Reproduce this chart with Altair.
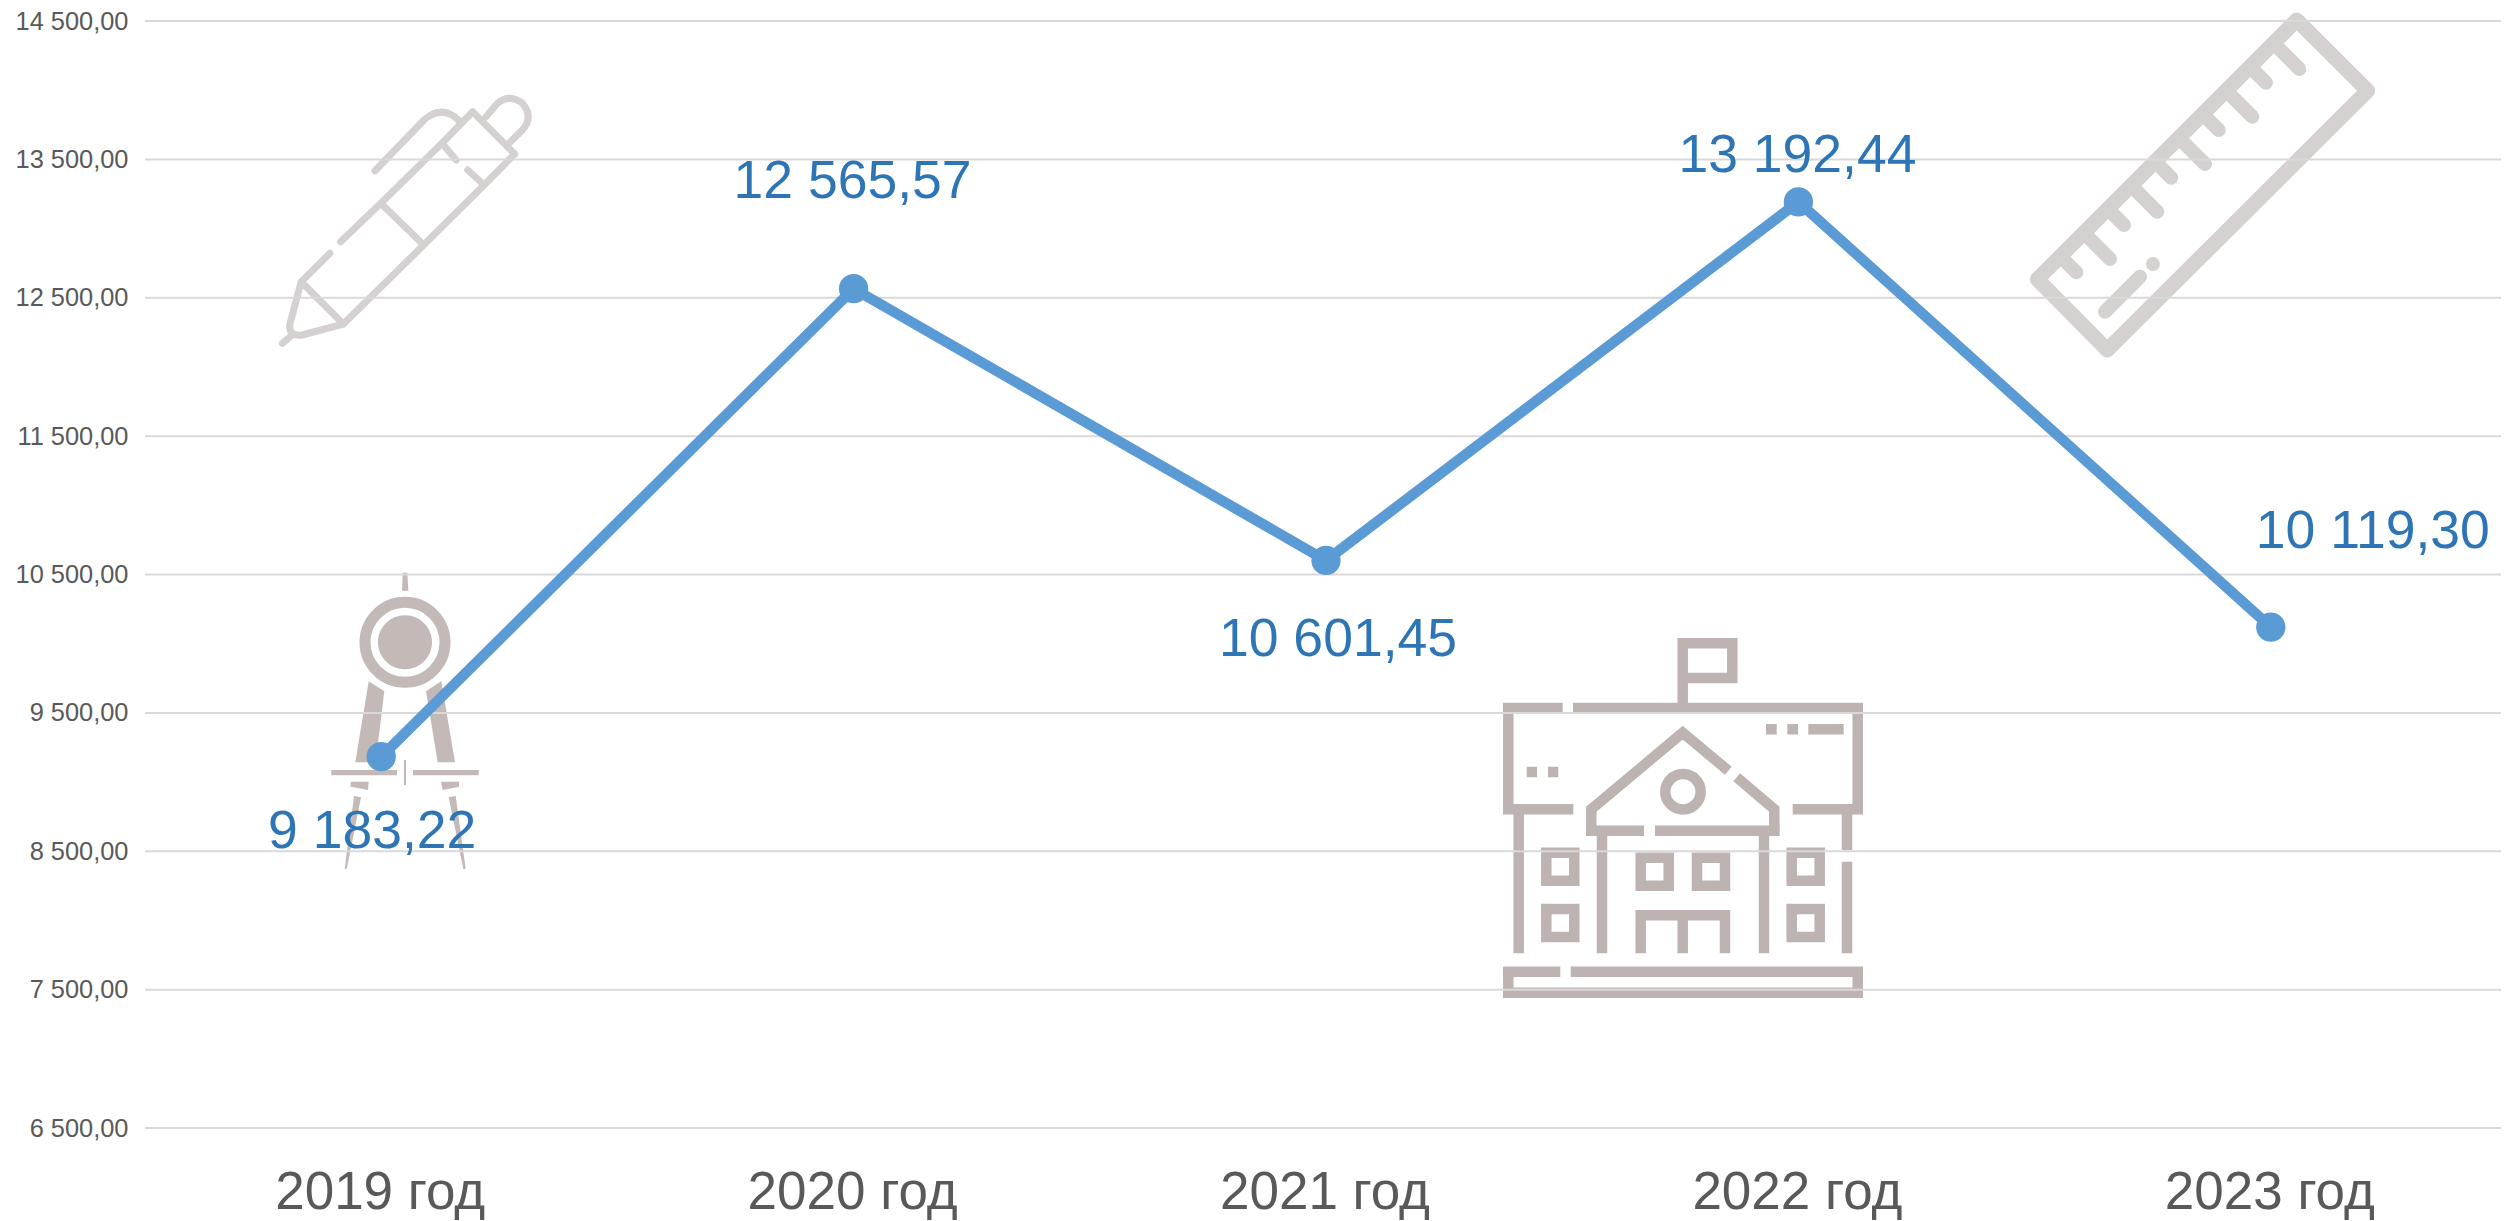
import re
import altair as alt
import pandas as pd

# ---------- chart values ----------
YEARS = ["2019 год", "2020 год", "2021 год", "2022 год", "2023 год"]
VALUES = [9183.22, 12565.57, 10601.45, 13192.44, 10119.30]
Y_TICKS = [6500, 7500, 8500, 9500, 10500, 11500, 12500, 13500, 14500]
LABEL_OFFSETS = [(-9, 75), (-1, -107), (12, 80), (-1, -46), (102, -95)]
CUT_OFF_TEXT = "руб."

PLOT_X, PLOT_Y = 145, 21
FONT = "Liberation Sans"


def fmt(v):
    return f"{v:,.2f}".replace(",", " ").replace(".", ",")


def local(path, origin, fx=3.0, fy=3.0):
    out, is_x = [], True
    for tok in re.findall(r"[MLQZ]|-?\d+\.?\d*", path):
        if tok.isalpha():
            out.append(tok)
            continue
        if is_x:
            out.append(f"{origin[0] + float(tok) / fx - PLOT_X:.1f}")
        else:
            out.append(f"{origin[1] + float(tok) / fy - PLOT_Y:.1f}")
        is_x = not is_x
    return " ".join(out)


def circle(cx, cy, r, origin, f=3.0):
    x = origin[0] + cx / f - PLOT_X
    y = origin[1] + cy / f - PLOT_Y
    r = r / f
    return f"M {x - r:.1f} {y:.1f} A {r:.1f} {r:.1f} 0 1 0 {x + r:.1f} {y:.1f} A {r:.1f} {r:.1f} 0 1 0 {x - r:.1f} {y:.1f} Z"


# ---------- decorative icons ----------
PEN = local(
    "M980 512 L1108 360 Q1155 312 1200 362 "
    "M1155 430 L1235 335 L1345 462 L1265 555 L1222 510 "
    "M1155 430 L1192 480 "
    "M1155 430 L995 610 L890 725 "
    "M862 760 L787 845 L897 972 L1107 735 L1265 555 "
    "M995 610 L1107 735 "
    "M787 845 L757 975 Q755 1010 790 1005 L897 972 "
    "M738 1030 L765 1003 "
    "M1270 350 L1300 310 Q1330 280 1365 310 Q1395 350 1365 390 L1330 430",
    (0, 0), 2.613, 3.0,
)
RULER_FRAME = local("M890 60 L1103 272 L322 1050 L112 838 Z", (2000, 0))
RULER_TICKS = local(
    "M821 130 L898 207 M679 272 L757 350 M537 414 L615 492 M394 557 L472 635 M252 699 L330 777 "
    "M750 200 L798 248 M608 342 L656 390 M466 485 L514 533 M324 627 L372 675 M181 769 L229 817 "
    "M315 935 L420 830 M459 792 L459 792",
    (2000, 0),
)
SCHOOL = local(
    "M608 265 L608 70 L757 70 L757 174 L608 174 "
    "M69 264 L248 264 M279 264 L1149 264 "
    "M85 264 L85 568 M69 568 L280 568 M1133 264 L1133 568 M938 568 L1149 568 "
    "M116 568 L116 1000 M1101 568 L1101 690 M1101 725 L1101 1000 "
    "M858 328 L890 328 M922 328 L954 328 M985 328 L1091 328 "
    "M140 456 L171 456 M204 456 L235 456 "
    "M334 632 L334 568 L608 338 L745 452 M770 472 L883 568 L883 632 "
    "M318 632 L492 632 M525 632 L899 632 "
    "M366 648 L366 1000 M852 648 L852 1000 "
    "M199 698 L283 698 L283 782 L199 782 Z M199 867 L283 867 L283 951 L199 951 Z "
    "M935 698 L1019 698 L1019 782 L935 782 Z M935 867 L1019 867 L1019 951 L935 951 Z "
    "M482 713 L566 713 L566 797 L482 797 Z M651 713 L735 713 L735 797 L651 797 Z "
    "M482 1000 L482 886 L735 886 L735 1000 M608 886 L608 1000 "
    "M69 1055 L241 1055 M272 1055 L1149 1055 M85 1055 L85 1118 M1133 1055 L1133 1118 M69 1118 L1149 1118",
    (1480, 620),
) + " " + circle(609, 515, 53, (1480, 620))
COMPASS_FILL = local(
    "M518 38 L532 38 L535 92 L516 92 Z "
    "M416 364 L463 394 L437 607 L376 607 Z "
    "M634 364 L588 394 L623 607 L675 607 Z "
    "M304 630 L501 630 L501 646 L304 646 Z "
    "M549 630 L746 630 L746 646 L549 646 Z "
    "M522 600 L528 600 L528 675 L522 675 Z "
    "M362 665 L416 665 L414 690 L362 680 Z "
    "M633 665 L687 665 L687 680 L638 690 Z "
    "M372 708 L393 712 L350 927 L344 927 Z "
    "M656 712 L677 708 L707 927 L700 927 Z",
    (230, 560),
) + " " + circle(525, 247, 81, (230, 560))
COMPASS_RING = circle(525, 247, 120, (230, 560))

ICON_DATA = pd.DataFrame({"icon": ["icon"]})


def icon_stroke(path, color, width, cap="round", join="round"):
    return alt.Chart(ICON_DATA).mark_point(
        shape=path, size=4, filled=False, stroke=color, strokeWidth=width,
        strokeCap=cap, strokeJoin=join, opacity=1,
    ).encode(x=alt.value(0), y=alt.value(0))


def icon_fill(path, color):
    return alt.Chart(ICON_DATA).mark_point(
        shape=path, size=4, filled=True, fill=color, strokeWidth=0, opacity=1,
    ).encode(x=alt.value(0), y=alt.value(0))


icons = [
    icon_stroke(PEN, "#d6d1d1", 7),
    icon_stroke(RULER_FRAME, "#d6d1d1", 15),
    icon_stroke(RULER_TICKS, "#d6d1d1", 14),
    icon_stroke(SCHOOL, "#bdb4b2", 10.5, cap="butt", join="miter"),
    icon_fill(COMPASS_FILL, "#c3b9b7"),
    icon_stroke(COMPASS_RING, "#c3b9b7", 11),
]

# ---------- data chart ----------
df = pd.DataFrame({"year": YEARS, "value": VALUES, "label": [fmt(v) for v in VALUES]})

y_scale = alt.Scale(domain=[6500, 14500], nice=False, zero=False)
y_axis = alt.Axis(
    values=Y_TICKS, labelFont=FONT, labelFontSize=25.4, labelColor="#595959",
    labelPadding=17, ticks=False, domain=False, grid=False,
    labelExpr="replace(replace(format(datum.value, ',.2f'), ',', ' '), '.', ',')",
)
x = alt.X(
    "year:N", sort=YEARS, title=None,
    scale=alt.Scale(type="point", padding=0.5, range=[0, 2362]),
    axis=alt.Axis(
        labelFont=FONT, labelFontSize=53, labelColor="#595959", labelAngle=0,
        labelPadding=38, ticks=False, domain=False, grid=False, labelFlush=False,
        labelLimit=600, labelOffset=-1.5,
    ),
)
y = alt.Y("value:Q", title=None, scale=y_scale, axis=y_axis)

grid = alt.Chart(pd.DataFrame({"tick": Y_TICKS})).mark_rule(
    color="#d9d9d9", strokeWidth=2
).encode(y=alt.Y("tick:Q", title=None, scale=y_scale, axis=y_axis))

line = alt.Chart(df).mark_line(color="#5b9bd5", strokeWidth=10.5, strokeCap="round", strokeJoin="round").encode(x=x, y=y)
points = alt.Chart(df).mark_point(filled=True, fill="#5b9bd5", size=860, opacity=1, strokeWidth=0).encode(x=x, y=y)

labels = [
    alt.Chart(df.iloc[[i]]).mark_text(
        font=FONT, fontSize=53.5, color="#2e75b6", align="center", baseline="middle", dx=dx, dy=dy
    ).encode(x=x, y=y, text="label:N")
    for i, (dx, dy) in enumerate(LABEL_OFFSETS)
]

cut_off = alt.Chart(pd.DataFrame({"t": [CUT_OFF_TEXT]})).mark_text(
    font=FONT, fontSize=53, color="#595959", align="left", baseline="alphabetic"
).encode(x=alt.value(2423 - PLOT_X), y=alt.value(-4 - PLOT_Y), text="t:N")

chart = alt.layer(*icons, grid, line, points, *labels, cut_off).properties(
    width=2356, height=1107, background="white",
    padding={"left": 137, "top": 13, "right": 0, "bottom": 92},
    autosize=alt.AutoSizeParams(type="none"),
).configure_view(stroke=None)

chart.save("out.html", embed_options={"renderer": "svg", "actions": False})
